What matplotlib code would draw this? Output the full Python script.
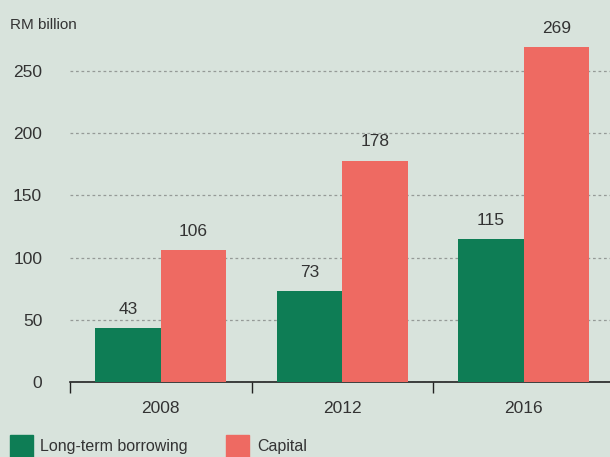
import numpy as np
import matplotlib
matplotlib.use('Agg')
import matplotlib.pyplot as plt
from matplotlib.patches import Rectangle

years = ['2008', '2012', '2016']
borrowing = [43, 73, 115]
capital = [106, 178, 269]

bg = '#d8e3dc'
green = '#0e7d55'
red = '#ee6a62'
txt = '#333333'

plt.rcParams['font.family'] = ['Liberation Sans', 'DejaVu Sans']

fig = plt.figure(figsize=(6.1, 4.57), dpi=100, facecolor=bg)
ax = fig.add_axes([70/610., 75/457., 540/610., 382/457.])
ax.set_facecolor(bg)

x = np.arange(len(years))
w = 0.36
b1 = ax.bar(x - w/2, borrowing, w, color=green, zorder=3)
b2 = ax.bar(x + w/2, capital, w, color=red, zorder=3)

for bars, vals in ((b1, borrowing), (b2, capital)):
    for r, v in zip(bars, vals):
        ax.text(r.get_x() + r.get_width()/2, v + 9, str(v), ha='center', va='bottom',
                fontsize=12.5, color=txt)

ax.set_xlim(-0.5, 2.475)
ax.set_ylim(0, 307)
ax.set_yticks([0, 50, 100, 150, 200, 250])
ax.yaxis.grid(True, linestyle=(0, (2.2, 2.2)), color='#959a97', linewidth=0.9, zorder=1)
ax.tick_params(axis='y', length=0, pad=20, labelsize=12.5, labelcolor=txt)

ax.set_xticks([-0.5, 0.5, 1.5])
ax.set_xticklabels([])
ax.set_xticks(x, minor=True)
ax.set_xticklabels(years, minor=True)
ax.tick_params(axis='x', which='major', length=8, width=1, color='#222222', direction='out')
ax.tick_params(axis='x', which='minor', length=0, pad=14, labelsize=12.5, labelcolor=txt)

for s in ['top', 'right', 'left']:
    ax.spines[s].set_visible(False)
ax.spines['bottom'].set_color('#222222')
ax.spines['bottom'].set_linewidth(1.2)

fig.text(10/610., 1 - 25/457., 'RM billion', fontsize=11, color=txt, va='center', ha='left')

# legend
fig.patches.append(Rectangle((10/610., 0), 23/610., 22/457., transform=fig.transFigure,
                             color=green, figure=fig))
fig.text(40/610., 10/457., 'Long-term borrowing', fontsize=11.5, color=txt, va='center')
fig.patches.append(Rectangle((226/610., 0), 23/610., 22/457., transform=fig.transFigure,
                             color=red, figure=fig))
fig.text(257/610., 10/457., 'Capital', fontsize=11.5, color=txt, va='center')

fig.savefig('out.png', dpi=100, facecolor=bg)
